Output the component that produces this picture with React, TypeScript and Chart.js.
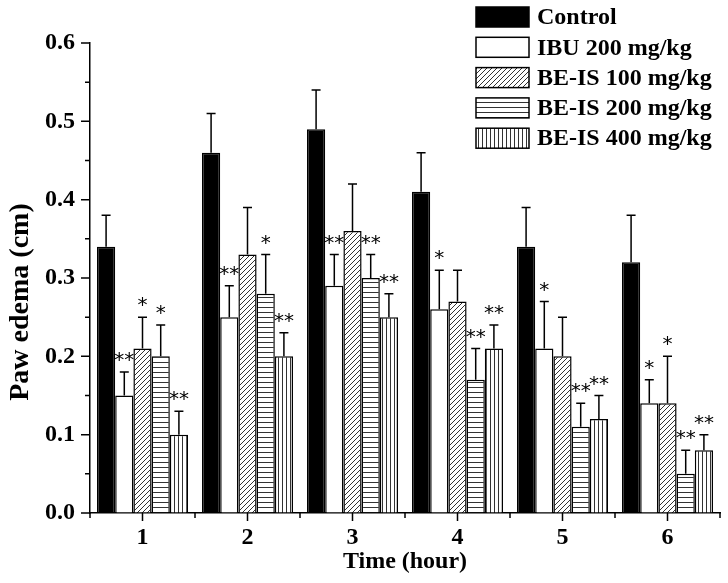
import React, { useEffect, useRef } from 'react';
import { Chart, registerables } from 'chart.js';

Chart.register(...registerables);

const categories = ['1', '2', '3', '4', '5', '6'];
const seriesLabels = ['Control', 'IBU 200 mg/kg', 'BE-IS 100 mg/kg', 'BE-IS 200 mg/kg', 'BE-IS 400 mg/kg'];

const controlValues = [0.34, 0.46, 0.49, 0.41, 0.34, 0.32];
const controlErrors = [0.04, 0.05, 0.05, 0.05, 0.05, 0.06];
const ibuValues = [0.15, 0.25, 0.29, 0.26, 0.21, 0.14];
const ibuErrors = [0.03, 0.04, 0.04, 0.05, 0.06, 0.03];
const be100Values = [0.21, 0.33, 0.36, 0.27, 0.2, 0.14];
const be100Errors = [0.04, 0.06, 0.06, 0.04, 0.05, 0.06];
const be200Values = [0.2, 0.28, 0.3, 0.17, 0.11, 0.05];
const be200Errors = [0.04, 0.05, 0.03, 0.04, 0.03, 0.03];
const be400Values = [0.1, 0.2, 0.25, 0.21, 0.12, 0.08];
const be400Errors = [0.03, 0.03, 0.03, 0.03, 0.03, 0.02];

const controlSig = ['', '', '', '', '', ''];
const ibuSig = ['**', '**', '**', '*', '*', '*'];
const be100Sig = ['*', '', '', '', '', '*'];
const be200Sig = ['*', '*', '**', '**', '**', '**'];
const be400Sig = ['**', '**', '**', '**', '**', '**'];

const yMin = 0;
const yMax = 0.6;
const yStep = 0.05;

const xTitle = 'Time (hour)';
const yTitle = 'Paw edema (cm)';

const SERIF = '"Liberation Serif", "Times New Roman", serif';

function makeFill(kind: string): any {
  if (kind === 'solid') return '#000000';
  if (kind === 'white') return '#ffffff';
  const c = document.createElement('canvas');
  const ctx = c.getContext('2d')!;
  if (kind === 'diag') {
    const s = 5;
    c.width = s;
    c.height = s;
    ctx.fillStyle = '#ffffff';
    ctx.fillRect(0, 0, s, s);
    ctx.strokeStyle = '#333333';
    ctx.lineWidth = 1;
    ctx.beginPath();
    ctx.moveTo(0, s);
    ctx.lineTo(s, 0);
    ctx.moveTo(-1, 1);
    ctx.lineTo(1, -1);
    ctx.moveTo(s - 1, s + 1);
    ctx.lineTo(s + 1, s - 1);
    ctx.stroke();
  } else if (kind === 'horiz') {
    c.width = 4;
    c.height = 5;
    ctx.fillStyle = '#ffffff';
    ctx.fillRect(0, 0, 4, 5);
    ctx.fillStyle = '#333333';
    ctx.fillRect(0, 2, 4, 1);
  } else if (kind === 'vert') {
    c.width = 4;
    c.height = 4;
    ctx.fillStyle = '#ffffff';
    ctx.fillRect(0, 0, 4, 4);
    ctx.fillStyle = '#333333';
    ctx.fillRect(2, 0, 1, 4);
  }
  return ctx.createPattern(c, 'repeat');
}

export default function App() {
  const ref = useRef<HTMLCanvasElement | null>(null);

  useEffect(() => {
    if (!ref.current) return;
    const kinds = ['solid', 'white', 'diag', 'horiz', 'vert'];
    const fills = kinds.map(makeFill);
    const values = [controlValues, ibuValues, be100Values, be200Values, be400Values];
    const errors = [controlErrors, ibuErrors, be100Errors, be200Errors, be400Errors];
    const sigs = [controlSig, ibuSig, be100Sig, be200Sig, be400Sig];

    const overlay = {
      id: 'overlay',
      afterDatasetsDraw(chart: any) {
        const ctx = chart.ctx as CanvasRenderingContext2D;
        const ys = chart.scales.y;
        const xs = chart.scales.x;
        const area = chart.chartArea;
        ctx.save();
        chart.data.datasets.forEach((ds: any, di: number) => {
          const meta = chart.getDatasetMeta(di);
          meta.data.forEach((bar: any, i: number) => {
            const v = ds.data[i];
            const top = ys.getPixelForValue(v + errors[di][i]);
            ctx.strokeStyle = '#000';
            ctx.lineWidth = 1.5;
            ctx.beginPath();
            ctx.moveTo(bar.x, bar.y);
            ctx.lineTo(bar.x, top);
            ctx.moveTo(bar.x - 4.5, top);
            ctx.lineTo(bar.x + 4.5, top);
            ctx.stroke();
            const s = sigs[di][i];
            if (s) {
              ctx.fillStyle = '#000';
              ctx.font = '20px "DejaVu Sans"';
              ctx.textAlign = 'center';
              ctx.textBaseline = 'alphabetic';
              const n = s.length;
              for (let k = 0; k < n; k++) {
                const dx = (k - (n - 1) / 2) * 10;
                ctx.fillText('*', bar.x + dx, top - 6);
              }
            }
          });
        });
        ctx.strokeStyle = '#000';
        ctx.lineWidth = 1.5;
        ctx.beginPath();
        ys.ticks.forEach((t: any, i: number) => {
          const py = ys.getPixelForValue(t.value);
          const len = i % 2 === 0 ? 9 : 5;
          ctx.moveTo(area.left, py);
          ctx.lineTo(area.left - len, py);
        });
        const n = categories.length;
        for (let i = 0; i < n; i++) {
          const px = xs.getPixelForValue(i);
          ctx.moveTo(px, area.bottom);
          ctx.lineTo(px, area.bottom + 8);
        }
        for (let i = 0; i <= n; i++) {
          const px = xs.getPixelForValue(i - 0.5);
          ctx.moveTo(px, area.bottom);
          ctx.lineTo(px, area.bottom + 5);
        }
        ctx.stroke();
        ctx.restore();
      },
      afterDraw(chart: any) {
        const ctx = chart.ctx as CanvasRenderingContext2D;
        ctx.save();
        ctx.translate(21, 302);
        ctx.rotate(-Math.PI / 2);
        ctx.font = 'bold 28px ' + SERIF;
        ctx.fillStyle = '#000';
        ctx.textAlign = 'center';
        ctx.textBaseline = 'middle';
        ctx.fillText(yTitle, 0, 0);
        ctx.restore();
        ctx.save();
        seriesLabels.forEach((label, i) => {
          const bx = 476;
          const by = 7 + i * 30.3;
          ctx.fillStyle = fills[i];
          ctx.fillRect(bx, by, 53, 20);
          ctx.strokeStyle = '#000';
          ctx.lineWidth = 1.5;
          ctx.strokeRect(bx, by, 53, 20);
          ctx.fillStyle = '#000';
          ctx.font = 'bold 24px ' + SERIF;
          ctx.textAlign = 'left';
          ctx.textBaseline = 'middle';
          ctx.fillText(label, 537, by + 11);
        });
        ctx.restore();
      },
    };

    const chart = new Chart(ref.current, {
      type: 'bar',
      data: {
        labels: categories,
        datasets: seriesLabels.map((label, i) => ({
          label,
          data: values[i],
          backgroundColor: fills[i],
          borderColor: '#000000',
          borderWidth: 1.5,
          borderSkipped: 'bottom',
          categoryPercentage: 0.867,
          barPercentage: 1,
        })),
      },
      options: {
        animation: false,
        responsive: false,
        maintainAspectRatio: false,
        layout: { padding: { left: 0, right: 8, top: 43, bottom: 0 } },
        plugins: { legend: { display: false }, tooltip: { enabled: false } },
        scales: {
          x: {
            type: 'category',
            offset: true,
            grid: { display: true, drawOnChartArea: false, drawTicks: true, tickLength: 8, tickColor: 'transparent', offset: false },
            border: { display: true, color: '#000', width: 1.5 },
            ticks: { color: '#000', font: { family: SERIF, size: 24, weight: 'bold' }, padding: 2, maxRotation: 0 },
            title: { display: true, text: xTitle, color: '#000', font: { family: SERIF, size: 24, weight: 'bold' }, padding: { top: 0, bottom: 7 } },
            afterFit(s: any) { s.height = 70; },
          },
          y: {
            min: yMin,
            max: yMax,
            grid: { display: true, drawOnChartArea: false, drawTicks: true, tickLength: 9, tickColor: 'transparent' },
            border: { display: true, color: '#000', width: 1.5 },
            ticks: {
              stepSize: yStep,
              color: '#000',
              padding: 6,
              font: { family: SERIF, size: 24, weight: 'bold' },
              callback: (v: any, i: number) => (i % 2 === 0 ? Number(v).toFixed(1) : ''),
            },
            afterFit(s: any) { s.width = 90; },
          },
        },
      } as any,
      plugins: [overlay],
    });
    return () => chart.destroy();
  }, []);

  return (
    <div style={{ position: 'fixed', left: 0, top: 0, width: 728, height: 583, background: '#fff' }}>
      <canvas ref={ref} width={728} height={583} style={{ width: 728, height: 583 }} />
    </div>
  );
}
